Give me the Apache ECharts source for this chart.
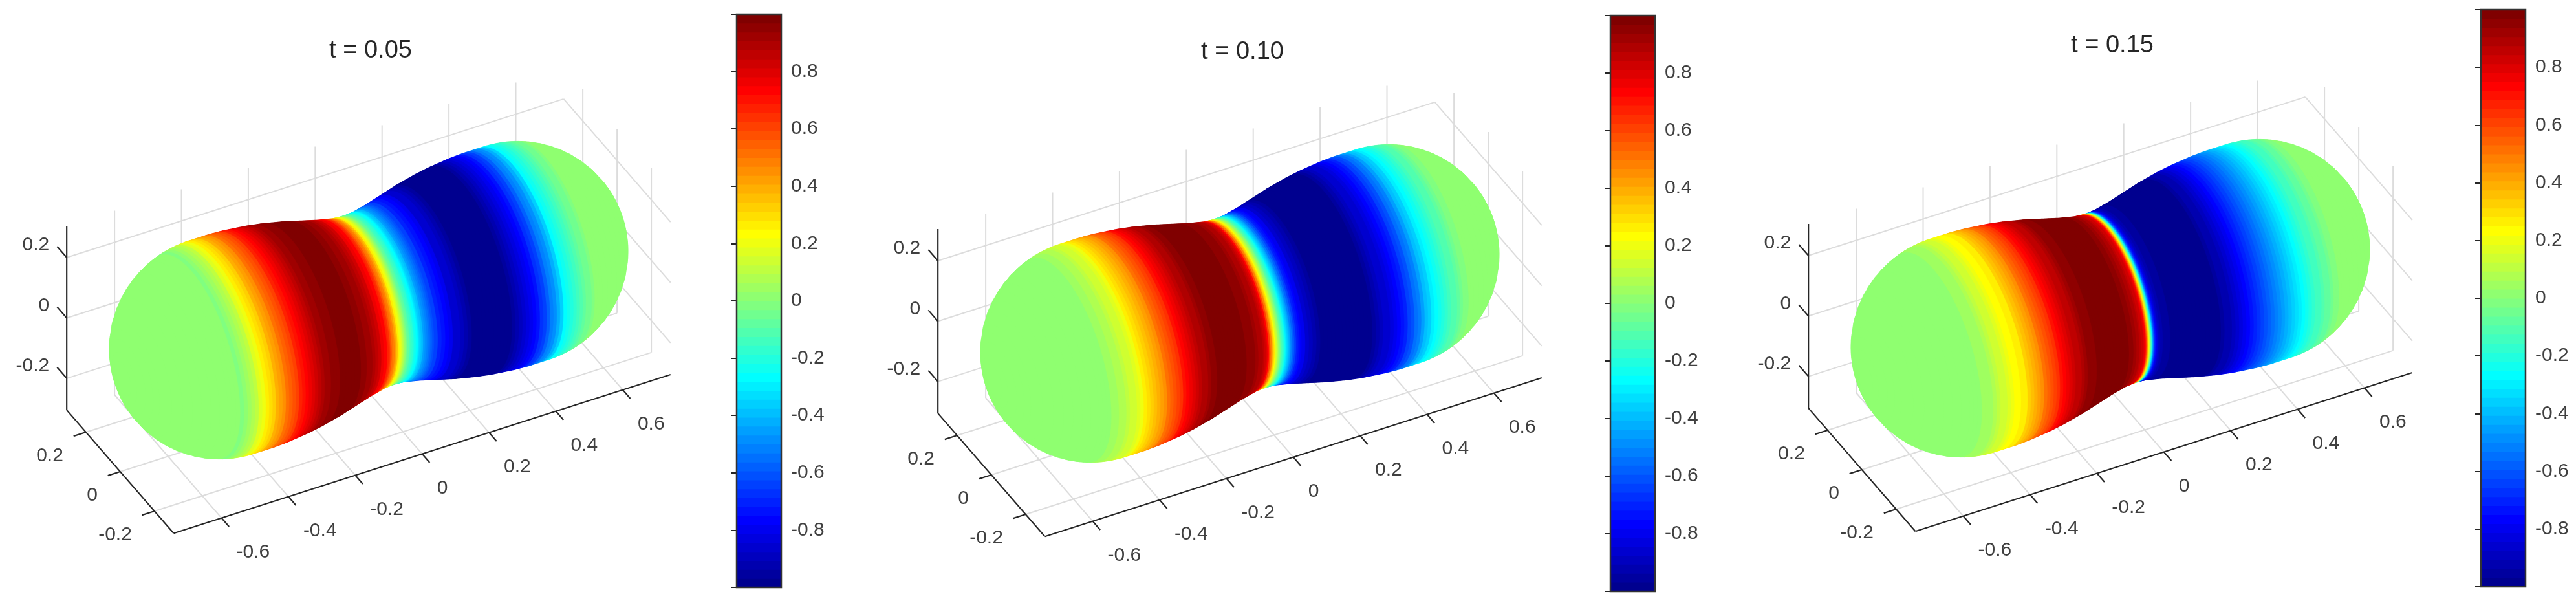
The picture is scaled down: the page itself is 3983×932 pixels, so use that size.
<!DOCTYPE html>
<html><head><meta charset="utf-8">
<style>html,body{margin:0;padding:0;background:#fff}#c{width:3983px;height:932px}</style>
<script src="https://cdn.jsdelivr.net/npm/echarts@6/dist/echarts.min.js"></script>
</head><body><div id="c"></div>
<script>
// ---- values ----
const titles = ['t = 0.05', 't = 0.10', 't = 0.15'];
const xTicks = [-0.6, -0.4, -0.2, 0, 0.2, 0.4, 0.6];
const yTicks = [-0.2, 0, 0.2];
const zTicks = [-0.2, 0, 0.2];
const xLimit = 0.743, yLimit = 0.312, zLimit = 0.305;
const colorLevels = 64;

// slices of the body along its long axis
const sliceX = [
 -.739,-.735,-.73,-.72,-.71,-.70,-.68,-.66,-.64,-.62,-.60,-.58,-.56,
 -.55,-.54,-.53,-.52,-.51,-.50,-.49,-.48,-.47,-.46,-.45,-.44,-.43,-.42,-.41,-.40,-.39,-.38,-.37,-.36,-.35,-.34,-.33,-.32,-.31,-.30,-.29,-.28,-.27,-.26,-.25,-.24,-.23,-.22,-.21,-.20,-.19,-.18,-.17,-.16,-.15,-.14,-.13,-.12,-.11,-.10,-.09,-.08,
 -.07,-.065,-.06,-.055,-.05,-.045,-.04,-.035,-.03,
 -.025,-.0225,-.02,-.0175,-.015,-.0125,-.01,-.0075,-.005,-.0025,0,.0025,.005,.0075,.01,.0125,.015,.0175,.02,.0225,.025,.0275,.03,
 .035,.04,.045,.05,.055,.06,.065,.07,
 .08,.09,.10,.11,.12,.13,.14,.15,.16,.17,.18,.19,.20,.21,.22,.23,.24,.25,.26,.27,.28,.29,.30,.31,.32,.33,.34,.35,.36,.37,.38,.39,.40,.41,.42,.43,.44,.45,.46,.47,.48,.49,.50,.51,.52,.53,.54,.55,
 .56,.58,.60,.62,.64,.66,.68,.70,.71,.72,.73,.735,.739];
const sliceRadius = [
 .02,.048,.0725,.1044,.128,.147,.1776,.2017,.2214,.2378,.2515,.263,.2725,
 .2766,.2804,.2837,.2866,.2891,.2913,.2931,.2946,.2957,.2965,.297,.297,.297,.297,.297,.297,.297,.297,.2965,.296,.2955,.295,.294,.293,.292,.291,.29,.289,.2875,.286,.2845,.283,.281,.279,.277,.275,.273,.271,.2685,.266,.2635,.261,.2585,.256,.2535,.251,.2485,.246,
 .244,.243,.242,.241,.24,.239,.238,.237,.2365,
 .2365,.236,.2358,.2356,.2354,.2352,.2352,.2351,.2351,.235,.235,.235,.2351,.2351,.2352,.2352,.2354,.2356,.2358,.236,.2362,.2364,.2367,
 .237,.238,.239,.24,.241,.242,.243,.244,
 .246,.2485,.251,.2535,.256,.2585,.261,.2635,.266,.2685,.271,.273,.275,.277,.279,.281,.283,.2845,.286,.2875,.289,.29,.291,.292,.293,.294,.295,.2955,.296,.2965,.297,.297,.297,.297,.297,.297,.297,.297,.2965,.2957,.2946,.2931,.2913,.2891,.2866,.2837,.2804,.2766,
 .2725,.263,.2515,.2378,.2214,.2017,.1776,.147,.128,.1044,.0725,.048,.02];
const phiT05 = [
 .02,.02,.02,.02,.02,.02,.02,.02,.02,.02,.02,.02,.02,
 .02,.01,-.01,-.01,.02,.06,.10,.14,.19,.23,.27,.31,.35,.40,.44,.48,.52,.56,.60,.64,.68,.72,.76,.79,.82,.85,.88,.90,.92,.94,.95,.96,.97,.98,.985,.99,.99,.985,.98,.97,.955,.94,.92,.90,.875,.84,.80,.75,
 .69,.65,.60,.55,.50,.44,.38,.31,.25,
 .18,.15,.12,.09,.06,.03,0,-.03,-.05,-.08,-.10,-.12,-.14,-.155,-.17,-.19,-.21,-.23,-.25,-.27,-.29,-.31,-.33,
 -.38,-.42,-.46,-.50,-.53,-.56,-.59,-.62,
 -.67,-.72,-.75,-.79,-.83,-.86,-.89,-.92,-.95,-.965,-.98,-.99,-.995,-1,-1,-1,-1,-1,-1,-.98,-.96,-.93,-.90,-.87,-.84,-.81,-.78,-.75,-.71,-.66,-.60,-.55,-.50,-.44,-.38,-.31,-.25,-.21,-.18,-.15,-.12,-.09,-.07,-.05,-.02,0,.02,.02,
 .02,.02,.02,.02,.02,.02,.02,.02,.02,.02,.02,.02,.02];
const phiT10 = [
 .02,.02,.02,.02,.02,.02,.02,.02,.02,.02,.02,.02,.02,
 .02,.02,.03,.05,.06,.08,.095,.11,.14,.17,.20,.235,.27,.30,.34,.38,.41,.45,.48,.52,.55,.59,.63,.67,.71,.745,.78,.81,.84,.87,.89,.91,.94,.955,.97,.98,.985,.99,.995,1,.995,.99,.985,.98,.97,.96,.95,.93,
 .91,.90,.885,.87,.85,.82,.78,.68,.54,
 .42,.37,.31,.26,.21,.16,.12,.07,.03,-.01,-.05,-.09,-.13,-.17,-.20,-.23,-.27,-.30,-.34,-.38,-.41,-.45,-.48,
 -.55,-.62,-.67,-.72,-.75,-.78,-.80,-.82,
 -.87,-.91,-.95,-.975,-.99,-.995,-1,-1,-1,-1,-1,-1,-1,-1,-1,-1,-.99,-.97,-.95,-.92,-.89,-.86,-.83,-.80,-.77,-.75,-.71,-.67,-.63,-.58,-.53,-.48,-.43,-.38,-.33,-.29,-.25,-.22,-.19,-.16,-.13,-.11,-.08,-.06,-.04,-.02,0,.02,
 .02,.02,.02,.02,.02,.02,.02,.02,.02,.02,.02,.02,.02];
const phiT15 = [
 .02,.02,.02,.02,.02,.02,.02,.02,.02,.02,.02,.02,.02,
 .02,.025,.03,.04,.05,.07,.10,.12,.14,.17,.19,.21,.23,.245,.26,.30,.34,.37,.41,.45,.485,.52,.56,.60,.63,.67,.71,.74,.77,.80,.83,.86,.885,.91,.93,.95,.96,.97,.98,.985,.99,.995,1,1,1,1,.995,.98,
 .97,.96,.95,.94,.925,.91,.89,.87,.84,
 .82,.81,.80,.76,.68,.58,.47,.33,.20,.07,-.09,-.22,-.38,-.52,-.63,-.72,-.78,-.82,-.85,-.87,-.89,-.905,-.92,
 -.94,-.95,-.96,-.965,-.97,-.975,-.98,-.985,
 -.99,-.995,-1,-1,-1,-1,-1,-1,-1,-1,-.99,-.975,-.95,-.925,-.90,-.87,-.84,-.80,-.77,-.74,-.71,-.68,-.65,-.62,-.59,-.56,-.53,-.50,-.47,-.44,-.40,-.37,-.34,-.30,-.27,-.24,-.21,-.19,-.17,-.14,-.12,-.10,-.08,-.06,-.04,-.02,0,.02,
 .02,.02,.02,.02,.02,.02,.02,.02,.02,.02,.02,.02,.02];
const phiByPanel = [phiT05, phiT10, phiT15];

// ---- layout and style ----
const panels = [
 {cx:570,  cy:464, titleX:568,  titleY:77, barL:1139, barR:1208, barT:22, barB:908},
 {cx:1917, cy:469, titleX:1916, titleY:79, barL:2490, barR:2559, barT:24, barB:914},
 {cx:3263, cy:461, titleX:3261, titleY:69, barL:3836, barR:3905, barT:15, barB:907}
];
const font = '"Liberation Sans", Arial, Helvetica, sans-serif';
const axisColor = '#262626', gridColor = '#dcdcdc', textColor = '#404040';
const halfU = 500, halfV = 420;

// orthographic view of the three data axes (az about -27, el about 39)
function project(x, y, z) { return [517 * x - 265 * y, 165 * x + 305 * y + 467 * z]; }

function jet(i) { // MATLAB jet colormap, 64 levels
  const v = (i + 1) / colorLevels, c = t => Math.round(255 * Math.max(0, Math.min(1, t)));
  return 'rgb(' + c(Math.min(4*v-1.5, -4*v+4.5)) + ',' + c(Math.min(4*v-0.5, -4*v+3.5)) + ',' + c(Math.min(4*v+0.5, -4*v+2.5)) + ')';
}
const jetTable = Array.from({length: colorLevels}, (_, i) => jet(i));
function colorOf(phi) { return jetTable[Math.max(0, Math.min(colorLevels - 1, Math.floor((phi + 1) / 2 * colorLevels)))]; }

function hull(pts) {
  const p = pts.slice().sort((a, b) => a[0] - b[0] || a[1] - b[1]);
  const cross = (o, a, b) => (a[0]-o[0])*(b[1]-o[1]) - (a[1]-o[1])*(b[0]-o[0]);
  const lo = [], up = [];
  for (const q of p) { while (lo.length > 1 && cross(lo[lo.length-2], lo[lo.length-1], q) <= 0) lo.pop(); lo.push(q); }
  for (let i = p.length - 1; i >= 0; i--) { const q = p[i]; while (up.length > 1 && cross(up[up.length-2], up[up.length-1], q) <= 0) up.pop(); up.push(q); }
  lo.pop(); up.pop();
  return lo.concat(up);
}

function ringPoints(x, r) {
  const out = [];
  for (let k = 0; k < 72; k++) {
    const t = k / 72 * 2 * Math.PI;
    out.push(project(x, r * Math.cos(t), r * Math.sin(t)));
  }
  return out;
}

// straight pieces of the 3D box: [from, to]
function gridSegments() {
  const s = [];
  for (const x of xTicks) {
    s.push([[x, -yLimit, -zLimit], [x, yLimit, -zLimit]]);
    s.push([[x, yLimit, -zLimit], [x, yLimit, zLimit]]);
  }
  for (const y of yTicks) {
    s.push([[-xLimit, y, -zLimit], [xLimit, y, -zLimit]]);
    s.push([[xLimit, y, -zLimit], [xLimit, y, zLimit]]);
  }
  for (const z of zTicks) {
    s.push([[-xLimit, yLimit, z], [xLimit, yLimit, z]]);
    s.push([[xLimit, yLimit, z], [xLimit, -yLimit, z]]);
  }
  return s;
}
function axisSegments() {
  const s = [
    [[-xLimit, yLimit, -zLimit], [-xLimit, yLimit, zLimit]],
    [[-xLimit, yLimit, -zLimit], [-xLimit, -yLimit, -zLimit]],
    [[-xLimit, -yLimit, -zLimit], [xLimit, -yLimit, -zLimit]]
  ];
  for (const z of zTicks) s.push([[-xLimit, yLimit, z], [-xLimit, yLimit + 0.056, z]]);
  for (const y of yTicks) s.push([[-xLimit, y, -zLimit], [-xLimit - 0.037, y, -zLimit]]);
  for (const x of xTicks) s.push([[x, -yLimit, -zLimit], [x, -yLimit - 0.044, -zLimit]]);
  return s;
}
function tickLabels() {
  const t = [];
  for (const z of zTicks) t.push({p: [-xLimit, yLimit, z], dx: -27, dy: -19, align: 'right', text: String(z)});
  for (const y of yTicks) t.push({p: [-xLimit, y, -zLimit], dx: -35, dy: 37, align: 'right', text: String(y)});
  for (const x of xTicks) t.push({p: [x, -yLimit, -zLimit], dx: 23, dy: 53, align: 'left', text: String(x)});
  return t;
}

const gridSegs = gridSegments(), axisSegs = axisSegments(), labels = tickLabels();

function segmentSeries(segs, color, width, z, axisIndex) {
  return {
    type: 'custom', coordinateSystem: 'cartesian2d', xAxisIndex: axisIndex, yAxisIndex: axisIndex,
    silent: true, z, clip: false, animation: false,
    data: segs.map((_, i) => [i]),
    renderItem(params, api) {
      const g = segs[api.value(0)];
      const a = api.coord(project(...g[0])), b = api.coord(project(...g[1]));
      return {type: 'line', shape: {x1: a[0], y1: a[1], x2: b[0], y2: b[1]},
              style: {stroke: color, lineWidth: width, fill: null}};
    }
  };
}

const grids = [], xAxes = [], yAxes = [], series = [], titleOpts = [];

panels.forEach((P, n) => {
  const view = 2 * n, bar = 2 * n + 1;
  grids.push({left: P.cx - halfU, top: P.cy - halfV, width: 2 * halfU, height: 2 * halfV, containLabel: false});
  xAxes.push({type: 'value', gridIndex: view, min: -halfU, max: halfU, show: false});
  yAxes.push({type: 'value', gridIndex: view, min: -halfV, max: halfV, show: false});

  grids.push({left: P.barL, top: P.barT, width: P.barR - P.barL, height: P.barB - P.barT, containLabel: false});
  xAxes.push({type: 'value', gridIndex: bar, min: 0, max: 1, show: false});
  yAxes.push({type: 'value', gridIndex: bar, min: -1, max: 1, interval: 0.2, position: 'right',
    axisLine: {show: false}, splitLine: {show: false},
    axisTick: {show: true, inside: true, length: 9, lineStyle: {color: axisColor, width: 2}},
    axisLabel: {color: textColor, fontSize: 30, fontFamily: font, margin: 15,
      formatter: v => Math.abs(v) > 0.999 ? '' : String(+(+v).toFixed(1))}});

  titleOpts.push({text: titles[n], left: P.titleX, top: P.titleY - 22, textAlign: 'center',
    textStyle: {fontSize: 38, fontWeight: 'normal', color: axisColor, fontFamily: font}});

  series.push(segmentSeries(gridSegs, gridColor, 2, 1, view));

  // body: rings painted from the far end to the near end
  const phi = phiByPanel[n];
  const order = [];
  for (let i = sliceX.length - 2; i >= 0; i--) order.push([i]);
  series.push({
    type: 'custom', coordinateSystem: 'cartesian2d', xAxisIndex: view, yAxisIndex: view,
    silent: true, z: 2, clip: false, animation: false, progressive: 0,
    data: order,
    renderItem(params, api) {
      const i = api.value(0);
      const pts = hull(ringPoints(sliceX[i], sliceRadius[i]).concat(ringPoints(sliceX[i+1], sliceRadius[i+1])));
      const col = colorOf((phi[i] + phi[i+1]) / 2);
      return {type: 'polygon', shape: {points: pts.map(q => api.coord(q))},
              style: {fill: col, stroke: col, lineWidth: 0.6}};
    }
  });

  series.push(segmentSeries(axisSegs, axisColor, 2.2, 3, view));

  series.push({
    type: 'custom', coordinateSystem: 'cartesian2d', xAxisIndex: view, yAxisIndex: view,
    silent: true, z: 4, clip: false, animation: false,
    data: labels.map((_, i) => [i]),
    renderItem(params, api) {
      const L = labels[api.value(0)];
      const c = api.coord(project(...L.p));
      return {type: 'text', style: {text: L.text, x: c[0] + L.dx, y: c[1] + L.dy, fill: textColor,
        font: '30px ' + font, textAlign: L.align, textVerticalAlign: 'middle'}};
    }
  });

  // colour bar
  series.push({
    type: 'custom', coordinateSystem: 'cartesian2d', xAxisIndex: bar, yAxisIndex: bar,
    silent: true, z: 2, clip: false, animation: false, progressive: 0,
    data: jetTable.map((_, i) => [i]),
    renderItem(params, api) {
      const i = api.value(0);
      const a = api.coord([0, -1 + 2 * (i + 1) / colorLevels]), b = api.coord([1, -1 + 2 * i / colorLevels]);
      return {type: 'rect', shape: {x: a[0], y: a[1] - 0.5, width: b[0] - a[0], height: b[1] - a[1] + 1},
              style: {fill: jetTable[i]}};
    }
  });
  series.push({
    type: 'custom', coordinateSystem: 'cartesian2d', xAxisIndex: bar, yAxisIndex: bar,
    silent: true, z: 5, clip: false, animation: false,
    data: [[0]],
    renderItem(params, api) {
      const a = api.coord([0, 1]), b = api.coord([1, -1]);
      return {type: 'rect', shape: {x: a[0], y: a[1], width: b[0] - a[0], height: b[1] - a[1]},
              style: {fill: null, stroke: '#333333', lineWidth: 2.5}};
    }
  });
});

const chart = echarts.init(document.getElementById('c'), null, {renderer: 'canvas', width: 3983, height: 932});
chart.setOption({backgroundColor: '#ffffff', animation: false, title: titleOpts,
  grid: grids, xAxis: xAxes, yAxis: yAxes, series});
</script></body></html>
